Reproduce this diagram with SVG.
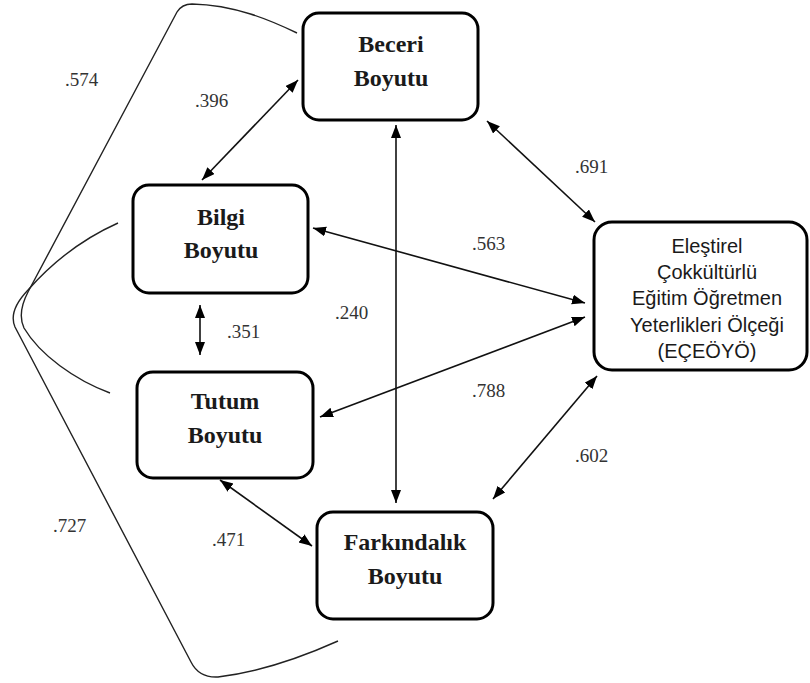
<svg xmlns="http://www.w3.org/2000/svg" width="810" height="683" viewBox="0 0 810 683">
<style>
.box{fill:#fff;stroke:#000;stroke-width:3}
.nt{font-family:"Liberation Serif",serif;font-weight:bold;font-size:24px;fill:#1a1a1a;text-anchor:middle}
.st{font-family:"Liberation Sans",Arial,sans-serif;font-size:20px;fill:#1a1a1a;text-anchor:middle}
.lb{font-family:"Liberation Serif",serif;font-size:19px;fill:#333}
.ar{fill:none;stroke:#111;stroke-width:1.6;marker-start:url(#ah);marker-end:url(#ah)}
.cv{fill:none;stroke:#222;stroke-width:1.4}
</style>
<defs>
<marker id="ah" markerUnits="userSpaceOnUse" markerWidth="14" markerHeight="11" refX="13" refY="5" orient="auto-start-reverse">
<path d="M0,0 L13,5 L0,10 z" fill="#000"/>
</marker>
</defs>
<g id="connectors">
<path class="cv" d="M297,33 C270,20 235,5 192,4 Q182,4 177,12 L28,292 Q17,313 24,328 C40,355 75,380 110,393"/>
<path class="cv" d="M118,223 C80,240 50,265 28,290 Q8,311 15,327 L191,662 Q199,678 218,677 C260,672 300,658 338,641"/>
<line class="ar" x1="202" y1="180" x2="298" y2="80"/>
<line class="ar" x1="200" y1="305" x2="200" y2="355"/>
<line class="ar" x1="396" y1="125" x2="396" y2="503"/>
<line class="ar" x1="487" y1="121" x2="595" y2="222"/>
<line class="ar" x1="313" y1="228" x2="585" y2="303"/>
<line class="ar" x1="585" y1="317" x2="320" y2="417"/>
<line class="ar" x1="597" y1="376" x2="493" y2="499"/>
<line class="ar" x1="220" y1="480" x2="312" y2="546"/>
<text class="lb" x="65" y="86">.574</text>
<text class="lb" x="195" y="107">.396</text>
<text class="lb" x="227" y="338">.351</text>
<text class="lb" x="335" y="319">.240</text>
<text class="lb" x="472" y="250">.563</text>
<text class="lb" x="575" y="173">.691</text>
<text class="lb" x="472" y="397">.788</text>
<text class="lb" x="575" y="462">.602</text>
<text class="lb" x="53" y="532">.727</text>
<text class="lb" x="212" y="546">.471</text>
</g>
<g id="beceri">
<rect class="box" x="303" y="13" width="175" height="107" rx="16"/>
<text class="nt" x="391" y="52">Beceri</text>
<text class="nt" x="391" y="86">Boyutu</text>
</g>
<g id="bilgi">
<rect class="box" x="133" y="185" width="175" height="108" rx="16"/>
<text class="nt" x="221" y="225">Bilgi</text>
<text class="nt" x="221" y="258">Boyutu</text>
</g>
<g id="tutum">
<rect class="box" x="137" y="372" width="176" height="106" rx="16"/>
<text class="nt" x="225" y="409">Tutum</text>
<text class="nt" x="225" y="443">Boyutu</text>
</g>
<g id="farkindalik">
<rect class="box" x="317" y="512" width="176" height="107" rx="16"/>
<text class="nt" x="405" y="550">Farkındalık</text>
<text class="nt" x="405" y="584">Boyutu</text>
</g>
<g id="eceoyo">
<rect class="box" x="594" y="222" width="213" height="148" rx="18"/>
<text class="st" x="707" y="253">Eleştirel</text>
<text class="st" x="707" y="279">Çokkültürlü</text>
<text class="st" x="707" y="305">Eğitim Öğretmen</text>
<text class="st" x="707" y="332">Yeterlikleri Ölçeği</text>
<text class="st" x="707" y="358">(EÇEÖYÖ)</text>
</g>
</svg>
